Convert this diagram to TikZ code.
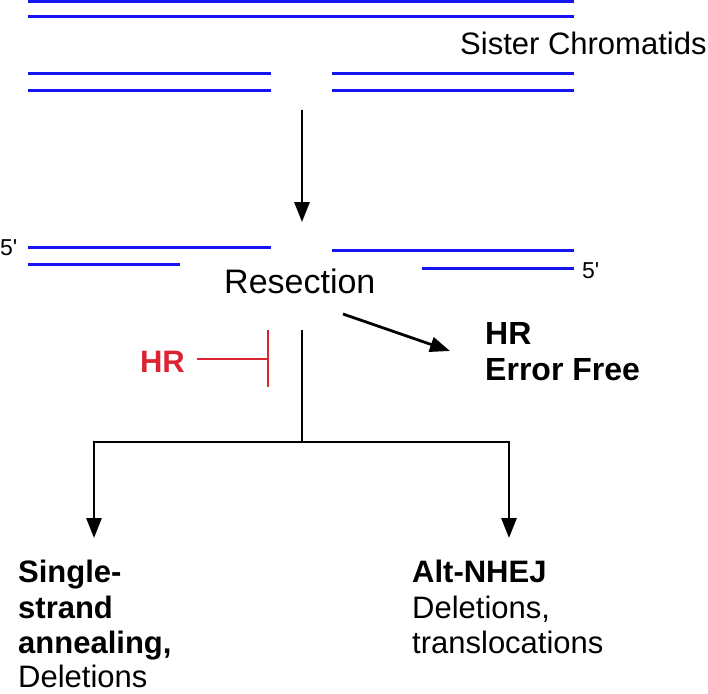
\documentclass[tikz,border=0pt]{standalone}
\usepackage{fontspec}
\setmainfont{Liberation Sans}
\usetikzlibrary{arrows.meta}
\definecolor{dnablue}{RGB}{20,20,245}
\definecolor{hrred}{RGB}{220,35,50}
\tikzset{
  strand/.style={draw=dnablue, line width=3pt},
  conn/.style={draw=black, line width=2.8pt},
  arr/.style={conn, -{Triangle[width=15pt,length=20pt]}},
  inhib/.style={draw=hrred, line width=2.2pt},
  lbl/.style={inner sep=0pt, anchor=base west, font=\fontsize{31}{37}\selectfont},
  blbl/.style={lbl, font=\fontsize{31}{36}\selectfont\bfseries},
  small/.style={inner sep=0pt, anchor=base west, font=\fontsize{23}{26}\selectfont}
}
\begin{document}
\begin{tikzpicture}[x=1pt,y=-1pt]
\useasboundingbox (0,0) rectangle (708,693);
% sister chromatids
\draw[strand] (28,1.5) -- (574,1.5);
\draw[strand] (28,17) -- (574,17);
\draw[strand] (28,73) -- (271,73);
\draw[strand] (28,90) -- (271,90);
\draw[strand] (332,73) -- (574,73);
\draw[strand] (332,90) -- (574,90);
\node[lbl] (sister) at (460,55) {Sister Chromatids};
% resected ends
\draw[strand] (28,247) -- (271,247);
\draw[strand] (28,264) -- (180,264);
\draw[strand] (332,250) -- (574,250);
\draw[strand] (422,268) -- (574,268);
\node[small] (fivel) at (0,255) {5\textquotesingle};
\node[small] (fiver) at (582,278) {5\textquotesingle};
% arrow to resection
\coordinate (a1) at (302,110);
\coordinate (a2) at (302,222);
\draw[arr] (a1) -- (a2);
\node[lbl, font=\fontsize{34}{40}\selectfont] (resection) at (224,293) {Resection};
% HR error free
\coordinate (h1) at (343,314);
\coordinate (h2) at (450,351);
\draw[arr] (h1) -- (h2);
\node[blbl, font=\fontsize{32}{36}\selectfont\bfseries] (hr) at (485,344) {HR};
\node[blbl, font=\fontsize{32}{36}\selectfont\bfseries] (errfree) at (485,380) {Error Free};
% inhibition
\node[blbl, text=hrred, anchor=base east] (redhr) at (185,372) {HR};
\coordinate (r1) at (197,359);
\coordinate (r2) at (268,359);
\coordinate (rt) at (268,330);
\coordinate (rb) at (268,387);
\draw[inhib] (r1) -- (r2);
\draw[inhib] (rt) -- (rb);
% tree
\coordinate (t1) at (302,330);
\coordinate (t2) at (302,442);
\coordinate (sa) at (94,538);
\coordinate (alt) at (509,538);
\draw[conn] (t1) -- (t2);
\draw[arr] (t2) -| (sa);
\draw[arr] (t2) -| (alt);
\node[blbl] (ssa1) at (18,582) {Single-};
\node[blbl] (ssa2) at (18,618) {strand};
\node[blbl] (ssa3) at (18,653) {annealing,};
\node[lbl] (ssa4) at (18,687) {Deletions};
\node[blbl] (alt1) at (412,582) {Alt-NHEJ};
\node[lbl] (alt2) at (412,618) {Deletions,};
\node[lbl] (alt3) at (412,653) {translocations};
\end{tikzpicture}
\end{document}
